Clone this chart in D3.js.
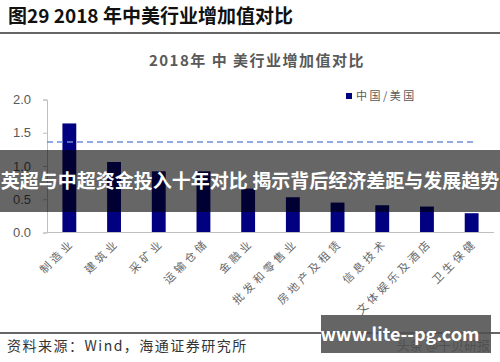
<!DOCTYPE html>
<html>
<head>
<meta charset="utf-8">
<script src="https://cdn.jsdelivr.net/npm/d3@7"></script>
<style>
  body { margin: 0; background: #fff; }
  svg { display: block; font-family: "Noto Sans CJK SC", "Liberation Sans", sans-serif; }
</style>
</head>
<body>
<div id="chart"></div>
<script>
"use strict";

// data
let categories = ['制造业', '建筑业', '采矿业', '运输仓储', '金融业', '批发和零售业',
  '房地产及租赁', '信息技术', '文体娱乐及酒店', '卫生保健'];
let ratios = [1.64, 1.06, 0.92, 0.92, 0.66, 0.53, 0.45, 0.41, 0.39, 0.29];
let average = [1.36];
let yTicks = [0, 0.5, 1.0, 1.5, 2.0];

let W = 500;
let H = 362;
let plot = { left: 47, right: 494, top: 99.5, bottom: 232.5 };

let svg = d3.select('#chart')
  .append('svg')
  .attr('width', W)
  .attr('height', H);

// header
svg.append('text')
  .attr('x', 8)
  .attr('y', 23)
  .attr('font-size', 19)
  .attr('font-weight', 'bold')
  .attr('fill', '#111')
  .text('图29 2018 年中美行业增加值对比');

svg.append('line')
  .attr('x1', 0).attr('x2', W)
  .attr('y1', 33).attr('y2', 33)
  .attr('stroke', '#333')
  .attr('stroke-width', 1.5);

// chart title
svg.append('text')
  .attr('x', 257)
  .attr('y', 66)
  .attr('text-anchor', 'middle')
  .attr('font-size', 15)
  .attr('font-weight', 'bold')
  .attr('letter-spacing', 1.5)
  .attr('fill', '#595959')
  .text('2018年 中 美行业增加值对比');

let x = d3.scaleBand()
  .domain(categories)
  .range([plot.left, plot.right])
  .paddingInner(0.69)
  .paddingOuter(0.345);

let y = d3.scaleLinear()
  .domain([0, 2])
  .range([plot.bottom, plot.top]);

// y axis
let yAxis = svg.append('g')
  .attr('transform', 'translate(' + plot.left + ',0)')
  .call(d3.axisLeft(y).tickValues(yTicks).tickFormat(d3.format('.1f')).tickSize(4).tickPadding(12));
yAxis.select('.domain').attr('stroke', '#bfbfbf');
yAxis.selectAll('.tick line').attr('stroke', '#bfbfbf');
yAxis.selectAll('.tick text')
  .attr('font-family', '"Liberation Sans", Arial, sans-serif')
  .attr('font-size', 13)
  .attr('fill', '#595959');

// bars
svg.append('g')
  .selectAll('rect')
  .data(ratios)
  .join('rect')
  .attr('x', (d, i) => x(categories[i]))
  .attr('y', d => y(d))
  .attr('width', x.bandwidth())
  .attr('height', d => y(0) - y(d))
  .attr('fill', '#000080');

// x axis line
svg.append('line')
  .attr('x1', plot.left).attr('x2', plot.right)
  .attr('y1', y(0)).attr('y2', y(0))
  .attr('stroke', '#bfbfbf');

// average dashed line
svg.append('line')
  .datum(average[0])
  .attr('x1', plot.left).attr('x2', 477)
  .attr('y1', d => y(d)).attr('y2', d => y(d))
  .attr('stroke', '#6f8fd8')
  .attr('stroke-width', 1.5)
  .attr('stroke-dasharray', '6,4');

// x labels
svg.append('g')
  .selectAll('text')
  .data(categories)
  .join('text')
  .attr('transform', d => 'translate(' + (x(d) + x.bandwidth() / 2 + 6) + ',' + (y(0) + 11) + ') rotate(-45)')
  .attr('text-anchor', 'end')
  .attr('font-size', 11)
  .attr('letter-spacing', 3.5)
  .attr('fill', '#666')
  .text(d => d);

// legend
svg.append('rect')
  .attr('x', 346).attr('y', 93)
  .attr('width', 6).attr('height', 6)
  .attr('fill', '#000080');
svg.append('text')
  .attr('x', 356).attr('y', 100)
  .attr('font-size', 11)
  .attr('letter-spacing', 2.5)
  .attr('fill', '#595959')
  .text('中国/美国');

// footer
svg.append('line')
  .attr('x1', 0).attr('x2', W)
  .attr('y1', 333).attr('y2', 333)
  .attr('stroke', '#333')
  .attr('stroke-width', 1.5);
svg.append('text')
  .attr('x', 7).attr('y', 351)
  .attr('font-size', 14)
  .attr('letter-spacing', 1.5)
  .attr('fill', '#333')
  .text('资料来源：Wind，海通证券研究所');
svg.append('text')
  .attr('x', 490).attr('y', 350)
  .attr('text-anchor', 'end')
  .attr('font-size', 13)
  .attr('fill', '#555')
  .text('头条 @千贝研报');

// overlay banner
svg.append('rect')
  .attr('x', 0).attr('y', 150)
  .attr('width', W).attr('height', 62)
  .attr('fill', 'rgba(0,0,0,0.6)');
svg.append('text')
  .attr('x', W / 2).attr('y', 188)
  .attr('text-anchor', 'middle')
  .attr('font-size', 19)
  .attr('font-weight', 'bold')
  .attr('fill', '#fff')
  .text('英超与中超资金投入十年对比 揭示背后经济差距与发展趋势');

// watermark box
svg.append('rect')
  .attr('x', 321).attr('y', 315)
  .attr('width', 170).attr('height', 38)
  .attr('fill', 'rgba(80,80,80,0.88)');
svg.append('text')
  .attr('x', 400).attr('y', 341)
  .attr('text-anchor', 'middle')
  .attr('font-size', 18)
  .attr('font-weight', 'bold')
  .attr('fill', '#fff')
  .text('www.lite--pg.com');
</script>
</body>
</html>
